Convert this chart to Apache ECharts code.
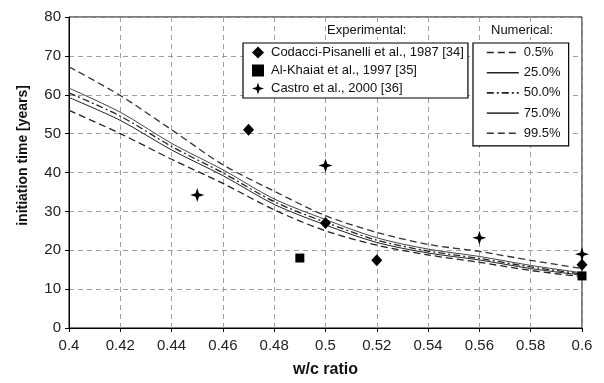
<!DOCTYPE html>
<html>
<head>
<meta charset="utf-8">
<script src="https://cdn.jsdelivr.net/npm/echarts@6/dist/echarts.min.js"></script>
<style>
  html, body { margin: 0; padding: 0; background: #fff; }
  #chart { width: 604px; height: 383px; }
</style>
</head>
<body>
<div id="chart"></div>
<script>
// w/c ratio grid of the numerical curves
const wcRatio = [0.4, 0.42, 0.44, 0.46, 0.48, 0.5, 0.52, 0.54, 0.56, 0.58, 0.6]

// numerical percentiles, initiation time [years]
const p005 = [56.0, 50.0, 43.4, 37.2, 30.4, 25.0, 21.3, 18.8, 16.9, 14.8, 13.2]
const p250 = [59.3, 53.4, 45.8, 39.2, 31.8, 26.5, 22.0, 19.3, 17.5, 15.3, 13.6]
const p500 = [60.5, 54.5, 46.7, 39.9, 32.5, 27.2, 22.6, 19.8, 17.9, 15.7, 13.9]
const p750 = [61.7, 55.5, 47.5, 40.7, 33.2, 27.9, 23.2, 20.3, 18.4, 16.1, 14.2]
const p995 = [67.2, 59.8, 51.0, 42.0, 35.2, 28.9, 24.6, 21.5, 19.7, 17.4, 15.3]

// experimental points [w/c, years]
const codacci = [[0.47, 51], [0.5, 27], [0.52, 17.4], [0.6, 16.3]]
const alKhaiat = [[0.49, 18], [0.6, 13.4]]
const castro = [[0.45, 34.2], [0.5, 41.8], [0.56, 23.2], [0.6, 19]]

const expNames = ["Codacci-Pisanelli et al., 1987 [34]", "Al-Khaiat et al., 1997 [35]", "Castro et al., 2000 [36]"]
const numNames = ["0.5%", "25.0%", "50.0%", "75.0%", "99.5%"]

const font = "Liberation Sans, Arial, sans-serif"
const star = "path://M0,-10 L2.4,-2.4 L10,0 L2.4,2.4 L0,10 L-2.4,2.4 L-10,0 L-2.4,-2.4 Z"

function pairs(ys) {
  return wcRatio.map((x, i) => [x, ys[i]])
}

function curve(name, ys, type, width, color) {
  return {
    name,
    type: "line",
    data: pairs(ys),
    smooth: 0.3,
    symbol: "none",
    showSymbol: false,
    z: 2,
    itemStyle: { color },
    lineStyle: { color, width, type }
  }
}

function points(name, data, symbol, size) {
  return {
    name,
    type: "scatter",
    data,
    symbol,
    symbolSize: size,
    z: 5,
    itemStyle: { color: "#000", opacity: 1 }
  }
}

const chart = echarts.init(document.getElementById("chart"))

chart.setOption({
  animation: false,
  backgroundColor: "#fff",
  textStyle: { fontFamily: font },
  grid: {
    left: 69, right: 22, top: 17, bottom: 51,
    show: true, borderColor: "#000", borderWidth: 1
  },
  xAxis: {
    type: "value",
    min: 0.4, max: 0.6, interval: 0.02,
    name: "w/c ratio",
    nameLocation: "middle",
    nameGap: 34,
    nameTextStyle: { fontSize: 16, fontWeight: "bold", color: "#111" },
    axisLine: { lineStyle: { color: "#000", width: 1 } },
    axisTick: { show: true, inside: false, length: 4, lineStyle: { color: "#000" } },
    axisLabel: { fontSize: 15, color: "#222", margin: 10, formatter: v => String(+v.toFixed(2)) },
    splitLine: { show: true, lineStyle: { color: "#a0a0a0", type: [5, 4], width: 1 } }
  },
  yAxis: {
    type: "value",
    min: 0, max: 80, interval: 10,
    axisLine: { show: true, lineStyle: { color: "#000", width: 1 } },
    axisTick: { show: true, inside: false, length: 4, lineStyle: { color: "#000" } },
    axisLabel: { fontSize: 15, color: "#222", margin: 8 },
    splitLine: { show: true, lineStyle: { color: "#a0a0a0", type: [5, 4], width: 1 } }
  },
  legend: [
    {
      data: expNames,
      orient: "vertical",
      left: 243, top: 43,
      padding: [3, 4, 3, 9],
      itemWidth: 12, itemHeight: 12, itemGap: 5,
      backgroundColor: "#fff",
      borderColor: "#000", borderWidth: 1.2, borderRadius: 0,
      selectedMode: false,
      textStyle: { fontSize: 13, color: "#111", padding: [0, 0, 0, 2] }
    },
    {
      data: numNames,
      orient: "vertical",
      left: 473, top: 43,
      padding: [3, 8, 6, 13],
      itemWidth: 32, itemHeight: 14, itemGap: 7.2,
      backgroundColor: "#fff",
      borderColor: "#000", borderWidth: 1.2, borderRadius: 0,
      selectedMode: false,
      itemStyle: { opacity: 0 },
      lineStyle: { width: 1.6 },
      textStyle: { fontSize: 13, color: "#111" }
    }
  ],
  graphic: [
    {
      type: "text", left: 326, top: 24, z: 10,
      style: { text: "Experimental:", font: "13px " + font, fill: "#111", backgroundColor: "#fff", padding: [0, 1] }
    },
    {
      type: "text", left: 490, top: 24, z: 10,
      style: { text: "Numerical:", font: "13px " + font, fill: "#111", backgroundColor: "#fff", padding: [0, 1] }
    },
    {
      type: "text", left: 16, top: 85, rotation: Math.PI / 2, z: 10,
      style: { text: "initiation time [years]", font: "bold 14px " + font, fill: "#111" }
    }
  ],
  series: [
    curve("0.5%", p005, [7, 4], 1.3, "#222"),
    curve("25.0%", p250, "solid", 1, "#222"),
    curve("50.0%", p500, [7, 3, 2, 3], 1.3, "#222"),
    curve("75.0%", p750, "solid", 1, "#444"),
    curve("99.5%", p995, [7, 4], 1.3, "#333"),
    points(expNames[0], codacci, "diamond", [11, 12]),
    points(expNames[1], alKhaiat, "rect", 9),
    points(expNames[2], castro, star, 14)
  ]
})
</script>
</body>
</html>
